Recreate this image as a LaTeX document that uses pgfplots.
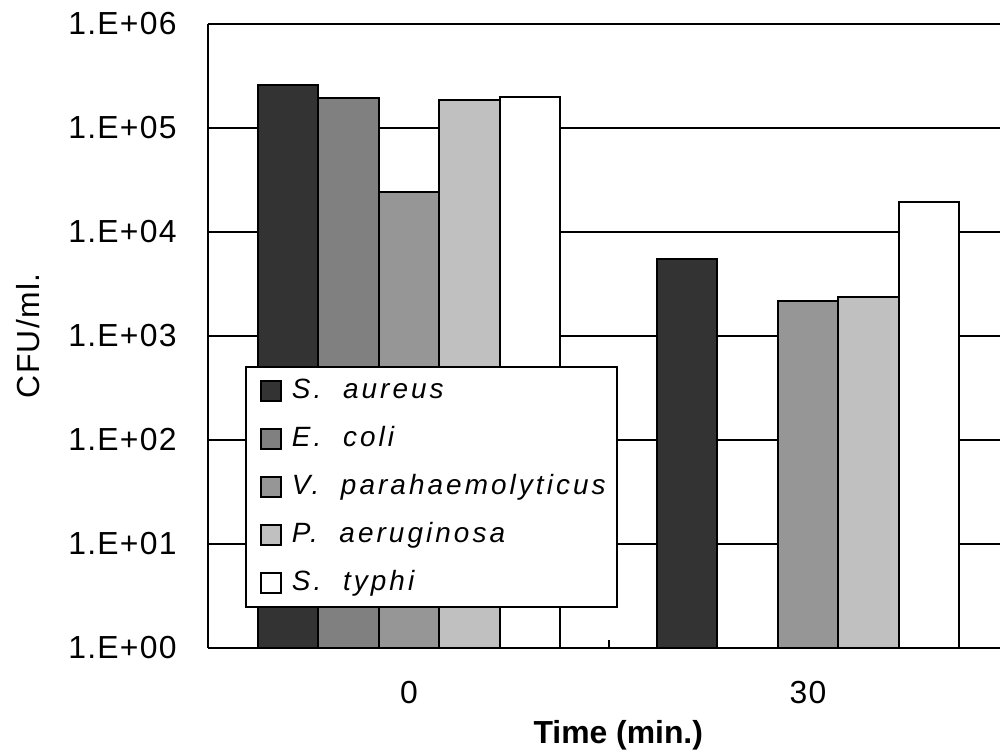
\documentclass[border=0pt]{standalone}
\usepackage{pgfplots}
\pgfplotsset{compat=1.18}
\usepackage{fontspec}
\setmainfont{Liberation Sans}
\newfontfamily\legfont[LetterSpace=11]{Liberation Sans}
\newfontfamily\tickfont[LetterSpace=4]{Liberation Sans}
\definecolor{c1}{HTML}{333333}
\definecolor{c2}{HTML}{808080}
\definecolor{c3}{HTML}{969696}
\definecolor{c4}{HTML}{C0C0C0}
\begin{document}
\begin{tikzpicture}
\begin{axis}[
  scale only axis, width=396bp, height=312bp,
  xmin=-0.504, xmax=1.481,
  ymode=log, ymin=1, ymax=1e6, log origin=0,
  ytick={1,10,100,1000,10000,100000,1000000},
  yticklabels={1.E+00,1.E+01,1.E+02,1.E+03,1.E+04,1.E+05,1.E+06},
  yminorticks=false,
  xtick={0,1}, xticklabels={0,30},
  major tick length=0pt,
  axis y line*=left, axis x line*=bottom,
  axis line style={black, line width=1bp},
  ymajorgrids, grid style={black, line width=0.9bp},
  tick label style={font=\tickfont\fontsize{16}{19}\selectfont, inner sep=0pt},
  yticklabel style={anchor=east, xshift=-15.5bp},
  xticklabel style={anchor=north, yshift=-16.5bp},
  xlabel={Time (min.)},
  ylabel={CFU/ml.},
  every axis x label/.style={at={(axis description cs:0.518,-0.1394)}, anchor=center,
    font=\bfseries\fontsize{16}{19}\selectfont},
  every axis y label/.style={at={(axis description cs:-0.2273,0.5)}, anchor=center, rotate=90,
    font=\tickfont\fontsize{16}{19}\selectfont},
  legend style={at={(axis description cs:0.0467,0.064)}, anchor=south west,
    draw=black, line width=1bp, inner sep=3.5bp, row sep=7bp,
    font=\legfont\itshape\fontsize{14}{17}\selectfont,
    nodes={text height=10bp, text depth=3bp, inner sep=2bp}},
  legend cell align=left,
  legend image code/.code={\path[draw=none, fill=none] (0bp,0bp) rectangle (17.5bp,0.1bp);
    \draw[#1, line width=1bp] (4bp,-5bp) rectangle (14bp,5bp);},
  clip=false,
]
\addplot[ybar, bar width=0.1516, bar shift=-0.3032, draw=black, line width=1bp, fill=c1]
  coordinates {(0,2.6e5) (1,5.5e3)};
\addlegendentry{S.~~aureus}
\addplot[ybar, bar width=0.1516, bar shift=-0.1516, draw=black, line width=1bp, fill=c2]
  coordinates {(0,1.96e5)};
\addlegendentry{E.~~coli}
\addplot[ybar, bar width=0.1516, bar shift=0, draw=black, line width=1bp, fill=c3]
  coordinates {(0,2.42e4) (1,2.17e3)};
\addlegendentry{V.~~parahaemolyticus}
\addplot[ybar, bar width=0.1516, bar shift=0.1516, draw=black, line width=1bp, fill=c4]
  coordinates {(0,1.86e5) (1,2.39e3)};
\addlegendentry{P.~~aeruginosa}
\addplot[ybar, bar width=0.1516, bar shift=0.3032, draw=black, line width=1bp, fill=white]
  coordinates {(0,1.97e5) (1,1.93e4)};
\addlegendentry{S.~~typhi}
\draw[line width=1bp] (axis cs:0.5,1) -- ([yshift=4bp]axis cs:0.5,1);
\coordinate (sw) at (rel axis cs:0,0);
\coordinate (ne) at (rel axis cs:1,1);
\end{axis}
\pgfresetboundingbox
\path[use as bounding box] ([shift={(-104bp,-52bp)}]sw) rectangle ([shift={(0bp,12bp)}]ne);
\end{tikzpicture}
\end{document}
